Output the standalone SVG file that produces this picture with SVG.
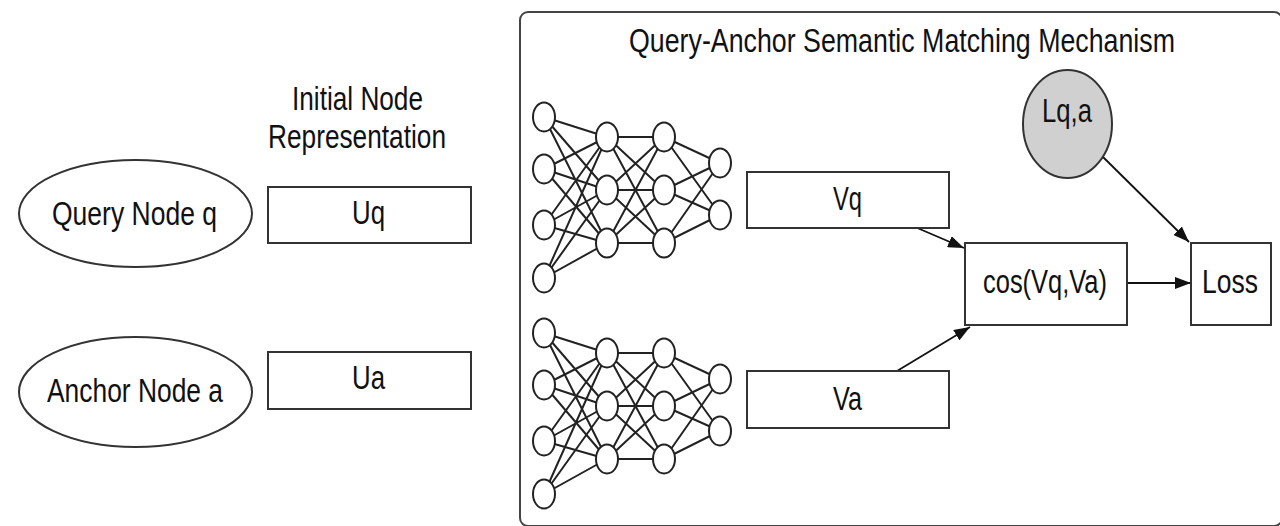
<svg xmlns="http://www.w3.org/2000/svg" width="1280" height="526" viewBox="0 0 1280 526">
  <style>
    text { font-family: "Liberation Sans", Arial, Helvetica, sans-serif; font-size: 34px; fill: #111; }
    .box { fill: #fff; stroke: #333; stroke-width: 2; }
    .panel { fill: #fff; stroke: #444; stroke-width: 2; }
    .neuron { fill: #fff; stroke: #222; stroke-width: 2; }
    .syn { stroke: #222; stroke-width: 2; fill: none; }
    .edge { stroke: #111; stroke-width: 1.8; fill: none; marker-end: url(#arrow); }
  </style>
  <defs>
    <marker id="arrow" markerUnits="userSpaceOnUse" viewBox="0 0 16 12" markerWidth="16" markerHeight="12" refX="16" refY="6" orient="auto">
      <path d="M0,0 L16,6 L0,12 z" fill="#111"/>
    </marker>
    <!-- one 4-3-3-2 fully connected network, reused for both branches -->
    <g id="mlp">
      <g class="syn">
        <!-- layer 1 -> layer 2 -->
        <path d="M544,117 L607,137 M544,117 L607,190 M544,117 L607,243
                 M544,169 L607,137 M544,169 L607,190 M544,169 L607,243
                 M544,225 L607,137 M544,225 L607,190 M544,225 L607,243
                 M544,278 L607,137 M544,278 L607,190 M544,278 L607,243"/>
        <!-- layer 2 -> layer 3 -->
        <path d="M607,137 L664,137 M607,137 L664,190 M607,137 L664,243
                 M607,190 L664,137 M607,190 L664,190 M607,190 L664,243
                 M607,243 L664,137 M607,243 L664,190 M607,243 L664,243"/>
        <!-- layer 3 -> layer 4 -->
        <path d="M664,137 L720,163 M664,137 L720,215
                 M664,190 L720,163 M664,190 L720,215
                 M664,243 L720,163 M664,243 L720,215"/>
      </g>
      <g>
        <ellipse class="neuron" cx="544" cy="117" rx="11" ry="14.5"/>
        <ellipse class="neuron" cx="544" cy="169" rx="11" ry="14.5"/>
        <ellipse class="neuron" cx="544" cy="225" rx="11" ry="14.5"/>
        <ellipse class="neuron" cx="544" cy="278" rx="11" ry="14.5"/>
        <ellipse class="neuron" cx="607" cy="137" rx="11" ry="14.5"/>
        <ellipse class="neuron" cx="607" cy="190" rx="11" ry="14.5"/>
        <ellipse class="neuron" cx="607" cy="243" rx="11" ry="14.5"/>
        <ellipse class="neuron" cx="664" cy="137" rx="11" ry="14.5"/>
        <ellipse class="neuron" cx="664" cy="190" rx="11" ry="14.5"/>
        <ellipse class="neuron" cx="664" cy="243" rx="11" ry="14.5"/>
        <ellipse class="neuron" cx="720" cy="163" rx="11" ry="14.5"/>
        <ellipse class="neuron" cx="720" cy="215" rx="11" ry="14.5"/>
      </g>
    </g>
  </defs>

  <rect width="1280" height="526" fill="#fff"/>

  <!-- left column: inputs and their initial representations -->
  <g id="initial-label">
    <text x="292" y="110" textLength="131" lengthAdjust="spacingAndGlyphs">Initial Node</text>
    <text x="268" y="148" textLength="178" lengthAdjust="spacingAndGlyphs">Representation</text>
  </g>
  <g id="query-node">
    <ellipse class="box" cx="135.5" cy="213.5" rx="116.5" ry="53.5"/>
    <text x="52" y="225" textLength="165" lengthAdjust="spacingAndGlyphs">Query Node q</text>
  </g>
  <g id="anchor-node">
    <ellipse class="box" cx="135.5" cy="392" rx="116.5" ry="55"/>
    <text x="47" y="402" textLength="176" lengthAdjust="spacingAndGlyphs">Anchor Node a</text>
  </g>
  <g id="uq">
    <rect class="box" x="268" y="187" width="203" height="56"/>
    <text x="352" y="224" textLength="33" lengthAdjust="spacingAndGlyphs">Uq</text>
  </g>
  <g id="ua">
    <rect class="box" x="268" y="352" width="203" height="57"/>
    <text x="352" y="389" textLength="33" lengthAdjust="spacingAndGlyphs">Ua</text>
  </g>

  <!-- matching mechanism panel -->
  <g id="mechanism">
    <rect class="panel" x="520" y="12" width="762" height="514" rx="8"/>
    <text x="629" y="52" textLength="546" lengthAdjust="spacingAndGlyphs">Query-Anchor Semantic Matching Mechanism</text>
  </g>
  <g id="encoder-q">
    <use href="#mlp"/>
  </g>
  <g id="encoder-a">
    <use href="#mlp" transform="translate(0,216)"/>
  </g>

  <!-- connectors -->
  <g id="connectors">
    <line class="edge" x1="915" y1="227" x2="964" y2="248"/>
    <line class="edge" x1="897" y1="371" x2="970" y2="327"/>
    <line class="edge" x1="1127" y1="283" x2="1191" y2="283"/>
    <line class="edge" x1="1103" y1="157" x2="1189" y2="242"/>
  </g>

  <g id="vq">
    <rect class="box" x="747" y="172" width="202" height="56"/>
    <text x="833" y="210" textLength="29" lengthAdjust="spacingAndGlyphs">Vq</text>
  </g>
  <g id="va">
    <rect class="box" x="747" y="371" width="202" height="57"/>
    <text x="833" y="410" textLength="29" lengthAdjust="spacingAndGlyphs">Va</text>
  </g>
  <g id="cos">
    <rect class="box" x="965" y="243" width="162" height="82"/>
    <text x="983" y="293" textLength="124" lengthAdjust="spacingAndGlyphs">cos(Vq,Va)</text>
  </g>
  <g id="loss">
    <rect class="box" x="1191" y="243" width="80" height="82"/>
    <text x="1202" y="293" textLength="56" lengthAdjust="spacingAndGlyphs">Loss</text>
  </g>
  <g id="label-lqa">
    <ellipse cx="1067.5" cy="124" rx="44.5" ry="54" fill="#d0d0d0" stroke="#333" stroke-width="2"/>
    <text x="1042" y="122" textLength="50" lengthAdjust="spacingAndGlyphs">Lq,a</text>
  </g>
</svg>
